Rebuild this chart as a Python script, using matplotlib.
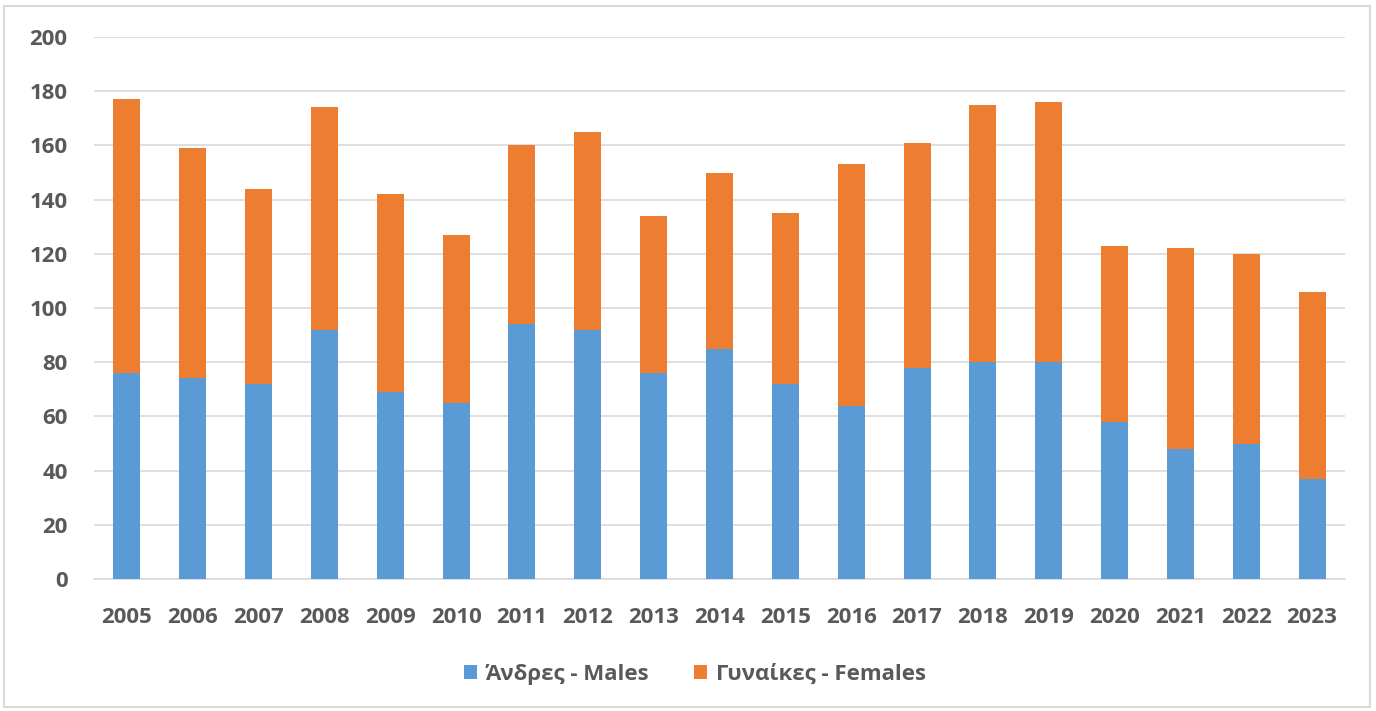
import numpy as np
import matplotlib.pyplot as plt
from matplotlib.patches import Rectangle

years = ['2005', '2006', '2007', '2008', '2009', '2010', '2011', '2012', '2013', '2014',
         '2015', '2016', '2017', '2018', '2019', '2020', '2021', '2022', '2023']
males = [76, 74, 72, 92, 69, 65, 94, 92, 76, 85, 72, 64, 78, 80, 80, 58, 48, 50, 37]
females = [101, 85, 72, 82, 73, 62, 66, 73, 58, 65, 63, 89, 83, 95, 96, 65, 74, 70, 69]

blue = '#5b9bd5'
orange = '#ed7d31'
text_color = '#595959'

plt.rcParams['font.family'] = ['Open Sans', 'DejaVu Sans']

fig = plt.figure(figsize=(13.76, 7.11), dpi=100)
ax = fig.add_axes([94 / 1376, 1 - 579 / 711, (1345 - 94) / 1376, (579 - 37) / 711])

x = np.arange(len(years))
ax.bar(x, males, width=0.41, color=blue, label='Άνδρες - Males', zorder=3)
ax.bar(x, females, width=0.41, bottom=males, color=orange, label='Γυναίκες - Females', zorder=3)

ax.set_xlim(-0.5, len(years) - 0.5)
ax.set_ylim(0, 200)
ax.set_yticks(np.arange(0, 201, 20))
ax.set_xticks(x)
ax.set_xticklabels(years)
ax.grid(axis='y', color='#d9d9d9', linewidth=1.2, zorder=0)
for s in ['top', 'right', 'left']:
    ax.spines[s].set_visible(False)
ax.spines['bottom'].set_color('#d9d9d9')
ax.spines['bottom'].set_linewidth(1.2)
ax.tick_params(length=0, labelsize=16, labelcolor=text_color)
ax.tick_params(axis='x', pad=20)
ax.tick_params(axis='y', pad=19)
for lbl in ax.get_xticklabels() + ax.get_yticklabels():
    lbl.set_fontweight('bold')

fig.legend(loc='center', bbox_to_anchor=(695 / 1376, 1 - 674 / 711), ncol=2, frameon=False,
           prop={'size': 16, 'weight': 'bold'}, labelcolor=text_color,
           handlelength=0.6, handleheight=0.6, handletextpad=0.4, columnspacing=2.0)

# outer frame
fig.patches.append(Rectangle((4 / 1376, 4 / 711), 1366 / 1376, 701 / 711, transform=fig.transFigure,
                             fill=False, edgecolor='#d9d9d9', linewidth=1.5))

fig.savefig('out.png', dpi=100)
